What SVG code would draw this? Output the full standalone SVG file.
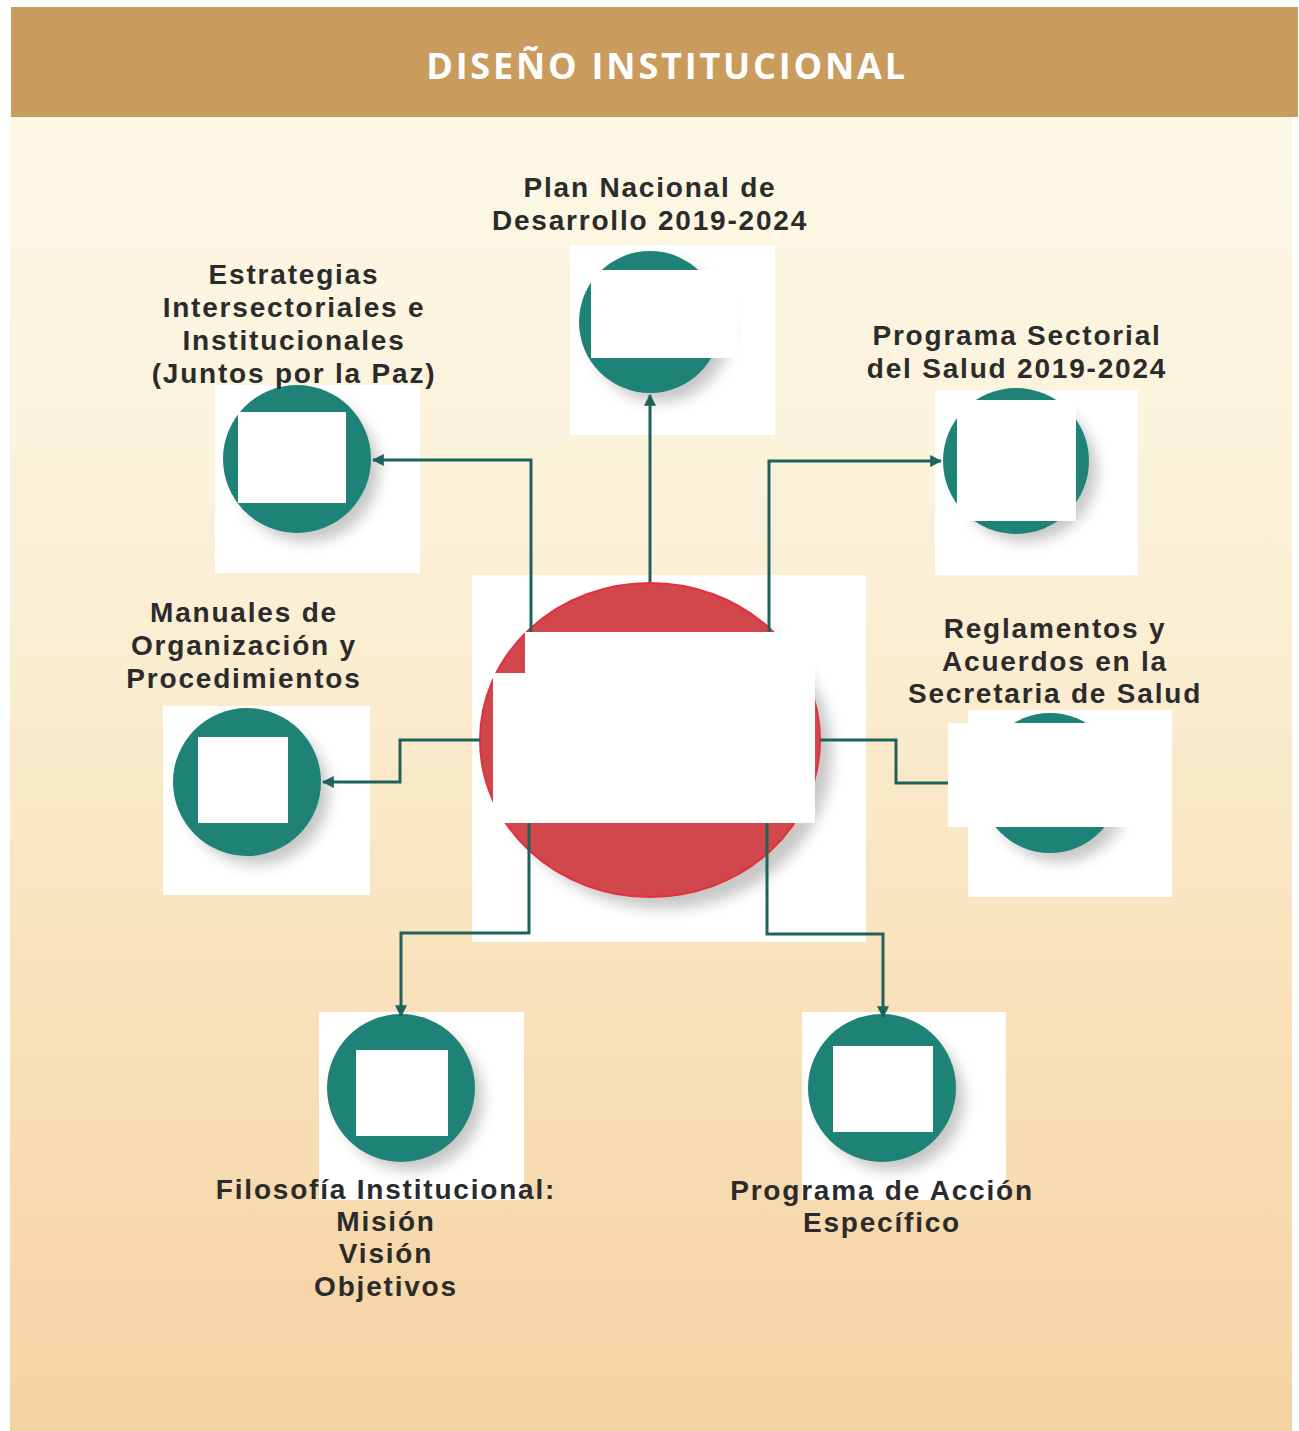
<svg xmlns="http://www.w3.org/2000/svg" width="1299" height="1431" viewBox="0 0 1299 1431">
<defs>
<linearGradient id="bg" x1="0" y1="0" x2="0" y2="1">
<stop offset="0" stop-color="#fcf8e6"/>
<stop offset="0.35" stop-color="#fbf0d6"/>
<stop offset="0.7" stop-color="#f8e0b8"/>
<stop offset="1" stop-color="#f5d2a2"/>
</linearGradient>
<filter id="blur" x="-50%" y="-50%" width="200%" height="200%"><feGaussianBlur stdDeviation="7"/></filter>
<marker id="arr" viewBox="0 0 10 10" refX="9" refY="5" markerWidth="4" markerHeight="4" orient="auto-start-reverse" markerUnits="strokeWidth">
<path d="M0,0 L10,5 L0,10 z" fill="#1e625b"/>
</marker>
<style>
.lbl{font-family:"Liberation Sans",Arial,sans-serif;font-weight:700;font-size:28px;fill:#2b2b2b;text-anchor:middle;letter-spacing:1.8px}
.card{fill:#ffffff}
.teal{fill:#1e8277}
.shadow{fill:#9a9a9a;opacity:0.55;filter:url(#blur)}
.inner{fill:#ffffff}
.conn{fill:none;stroke:#1e625b;stroke-width:3}
</style>
</defs>
<rect x="0" y="0" width="1299" height="1431" fill="#ffffff"/>
<rect x="10" y="115" width="1282" height="1316" fill="url(#bg)"/>
<rect x="11" y="7" width="1287" height="110" fill="#c99b5d"/>
<text x="667" y="79" font-family="'Open Sans','Liberation Sans',sans-serif" font-weight="700" font-size="36" fill="#ffffff" text-anchor="middle" letter-spacing="2.8">DISEÑO INSTITUCIONAL</text>

<g id="node-plan">
<rect class="card" x="570" y="245" width="205" height="190"/>
<circle class="shadow" cx="660" cy="332" r="70"/>
<circle class="teal" cx="650" cy="322" r="71"/>
<rect class="inner" x="591" y="270" width="146" height="88"/>
<text class="lbl" x="650" y="197">Plan Nacional de</text>
<text class="lbl" x="650" y="230">Desarrollo 2019-2024</text>
</g>

<g id="node-estrategias">
<rect class="card" x="215" y="385" width="205" height="188"/>
<circle class="shadow" cx="307" cy="470" r="72"/>
<circle class="teal" cx="297" cy="459" r="74"/>
<rect class="inner" x="238" y="412" width="108" height="91"/>
<text class="lbl" x="294" y="284">Estrategias</text>
<text class="lbl" x="294" y="317">Intersectoriales e</text>
<text class="lbl" x="294" y="350">Institucionales</text>
<text class="lbl" x="294" y="383">(Juntos por la Paz)</text>
</g>

<g id="node-sectorial">
<rect class="card" x="935" y="390" width="203" height="185"/>
<circle class="shadow" cx="1026" cy="471" r="71"/>
<circle class="teal" cx="1016" cy="461" r="73"/>
<rect class="inner" x="957" y="400" width="119" height="121"/>
<text class="lbl" x="1017" y="345">Programa Sectorial</text>
<text class="lbl" x="1017" y="378">del Salud 2019-2024</text>
</g>

<g id="node-central">
<rect class="card" x="472" y="575" width="394" height="367"/>
<ellipse class="shadow" cx="664" cy="754" rx="168" ry="155"/>
<ellipse cx="650" cy="740" rx="170" ry="157" fill="#d2474b" stroke="#e2303f" stroke-width="2"/>
<path class="inner" d="M525,632 H815 V823 H493 V673 H525 Z"/>
</g>

<g id="node-manuales">
<rect class="card" x="163" y="706" width="207" height="189"/>
<circle class="shadow" cx="257" cy="793" r="72"/>
<circle class="teal" cx="247" cy="782" r="74"/>
<rect class="inner" x="198" y="737" width="90" height="86"/>
<text class="lbl" x="244" y="622">Manuales de</text>
<text class="lbl" x="244" y="655">Organización y</text>
<text class="lbl" x="244" y="688">Procedimientos</text>
</g>

<g id="node-reglamentos">
<rect class="card" x="968" y="710" width="204" height="187"/>
<circle class="shadow" cx="1060" cy="794" r="68"/>
<circle class="teal" cx="1050" cy="783" r="70"/>
<rect class="inner" x="948" y="723" width="212" height="104"/>
<text class="lbl" x="1055" y="638">Reglamentos y</text>
<text class="lbl" x="1055" y="671">Acuerdos en la</text>
<text class="lbl" x="1055" y="703">Secretaria de Salud</text>
</g>

<g id="node-filosofia">
<rect class="card" x="319" y="1012" width="205" height="188"/>
<circle class="shadow" cx="411" cy="1099" r="72"/>
<circle class="teal" cx="401" cy="1088" r="74"/>
<rect class="inner" x="356" y="1050" width="92" height="86"/>
<text class="lbl" x="386" y="1199">Filosofía Institucional:</text>
<text class="lbl" x="386" y="1231">Misión</text>
<text class="lbl" x="386" y="1263">Visión</text>
<text class="lbl" x="386" y="1296">Objetivos</text>
</g>

<g id="node-accion">
<rect class="card" x="802" y="1012" width="204" height="188"/>
<circle class="shadow" cx="892" cy="1099" r="72"/>
<circle class="teal" cx="882" cy="1088" r="74"/>
<rect class="inner" x="833" y="1046" width="100" height="86"/>
<text class="lbl" x="882" y="1200">Programa de Acción</text>
<text class="lbl" x="882" y="1232">Específico</text>
</g>

<g id="connectors">
<path class="conn" d="M650,582 V395" marker-end="url(#arr)"/>
<path class="conn" d="M531,632 V460 H373" marker-end="url(#arr)"/>
<path class="conn" d="M769,632 V461 H941" marker-end="url(#arr)"/>
<path class="conn" d="M480,740 H400 V782 H323" marker-end="url(#arr)"/>
<path class="conn" d="M820,740 H896 V783 H948"/>
<path class="conn" d="M529,823 V933 H401 V1016" marker-end="url(#arr)"/>
<path class="conn" d="M767,823 V934 H883 V1017" marker-end="url(#arr)"/>
</g>
</svg>
